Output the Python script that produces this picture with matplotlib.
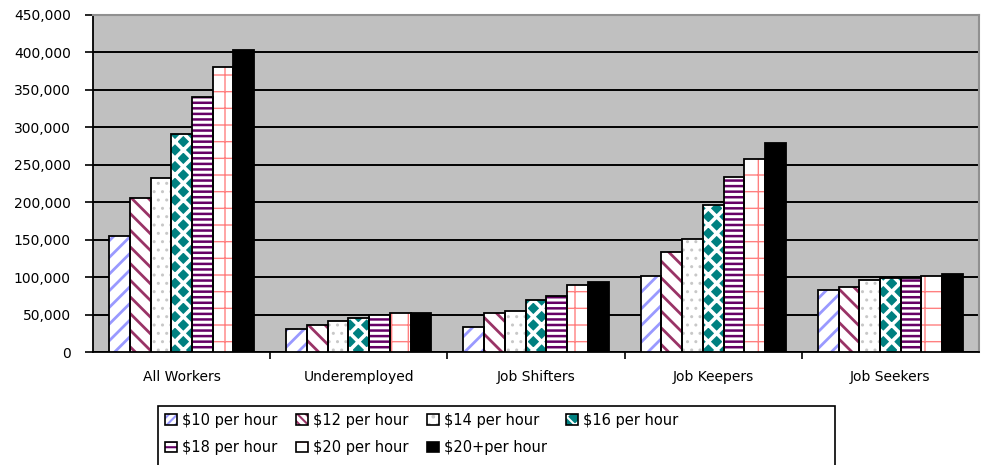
import numpy as np
import matplotlib
matplotlib.use('Agg')
import matplotlib.pyplot as plt
from matplotlib.patches import Patch, Rectangle
from matplotlib.legend_handler import HandlerTuple
from matplotlib.ticker import FuncFormatter, FixedLocator

# worker groups on the x axis
groups = ['All Workers', 'Underemployed', 'Job Shifters', 'Job Keepers', 'Job Seekers']

# number of workers at each wage level, one list per wage series
wage_10 = [155000, 31000, 33000, 102000, 83000]
wage_12 = [206000, 36000, 52000, 133000, 87000]
wage_14 = [233000, 41000, 55000, 151000, 96000]
wage_16 = [291000, 46000, 70000, 196000, 99000]
wage_18 = [340000, 49000, 75000, 234000, 99000]
wage_20 = [380000, 52000, 90000, 258000, 102000]
wage_20plus = [403000, 52000, 94000, 279000, 104000]

series_labels = ['$10 per hour', '$12 per hour', '$14 per hour', '$16 per hour',
                 '$18 per hour', '$20 per hour', '$20+per hour']
series_values = [wage_10, wage_12, wage_14, wage_16, wage_18, wage_20, wage_20plus]

# (face colour, hatch colour, bar hatch, legend hatch, hatch line width)
styles = [
    ('white', '#9999FF', '//', '////', 2.0),
    ('white', '#993366', '\\\\', '\\\\\\\\', 2.0),
    ('white', '#C8C8C8', '..', '..', 1.0),
    ('#008080', 'white', 'xx', 'xx', 2.6),
    ('white', '#660066', '---', '---', 1.8),
    ('white', '#FF8080', '+', '+', 1.0),
    ('black', 'black', '', '', 1.0),
]

plt.rcParams['font.family'] = 'DejaVu Sans'
plt.rcParams['hatch.linewidth'] = 1.5

fig = plt.figure(figsize=(9.86, 4.65), dpi=100)
ax = fig.add_axes([93 / 986, 113 / 465, 886 / 986, 337 / 465])
ax.set_facecolor('#C0C0C0')

x = np.arange(len(groups))
n = len(series_values)
width = 0.117
handles = []
for i, (vals, (fc, hc, hatch, lhatch, hlw)) in enumerate(zip(series_values, styles)):
    pos = x + (i - (n - 1) / 2) * width
    with plt.rc_context({'hatch.linewidth': hlw}):
        fill = ax.bar(pos, vals, width, color=fc, edgecolor=hc, linewidth=0,
                      hatch=hatch, zorder=3)
    for b in fill:
        if hasattr(b, 'set_hatch_linewidth'):
            b.set_hatch_linewidth(hlw)
    ax.bar(pos, vals, width, facecolor='none', edgecolor='black',
           linewidth=1.3, zorder=4)
    with plt.rc_context({'hatch.linewidth': hlw}):
        hp = Patch(facecolor=fc, edgecolor=hc, hatch=lhatch, linewidth=0)
    if hasattr(hp, 'set_hatch_linewidth'):
        hp.set_hatch_linewidth(hlw)
    op = Patch(facecolor='none', edgecolor='black', linewidth=1.2)
    handles.append((hp, op))

ax.set_xlim(-0.5, len(groups) - 0.5)
ax.set_ylim(0, 450000)
ax.yaxis.set_major_locator(FixedLocator(np.arange(0, 450001, 50000)))
ax.yaxis.set_major_formatter(FuncFormatter(lambda v, p: f'{v:,.0f}'))
ax.grid(axis='y', color='black', linewidth=1.4, zorder=1)
ax.set_axisbelow(True)

ax.set_xticks(x)
ax.set_xticklabels(groups, fontsize=10)
ax.set_xticks(np.arange(0.5, len(groups) - 1, 1), minor=True)
ax.tick_params(axis='x', which='major', length=0, pad=13)
ax.tick_params(axis='x', which='minor', length=5, width=1.2, color='black')
ax.tick_params(axis='y', length=6, width=1.2, pad=10, labelsize=10)

for s in ['left', 'bottom']:
    ax.spines[s].set_color('black')
    ax.spines[s].set_linewidth(1.3)
for s in ['top', 'right']:
    ax.spines[s].set_color('#909090')
    ax.spines[s].set_linewidth(1.5)

# legend fills column by column, so reorder to read across in rows
order = [0, 4, 1, 5, 2, 6, 3]
leg = fig.legend([handles[k] for k in order], [series_labels[k] for k in order],
                 ncol=4, loc='upper left',
                 bbox_to_anchor=(158 / 986, 1 - 406 / 465),
                 handler_map={tuple: HandlerTuple(ndivide=1)},
                 fontsize=10.5, frameon=False,
                 handlelength=0.85, handleheight=0.75, handletextpad=0.35,
                 columnspacing=1.25, labelspacing=0.85, borderpad=0.45,
                 borderaxespad=0)

# the legend box is wider than its entries and runs off the bottom edge
fig.patches.append(Rectangle((158 / 986, -0.05), (835 - 158) / 986,
                             (465 - 406) / 465 + 0.05,
                             transform=fig.transFigure, facecolor='white',
                             edgecolor='black', linewidth=1.2, zorder=0))

fig.savefig('out.png', dpi=100, facecolor='white')
